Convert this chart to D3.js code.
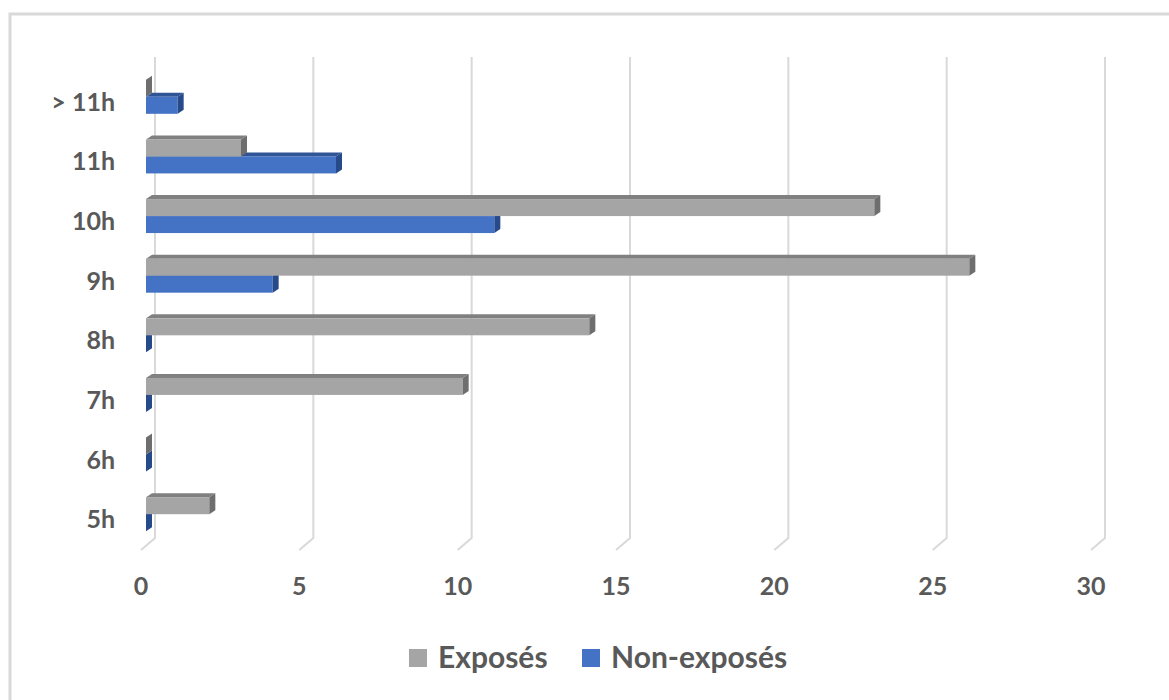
<!DOCTYPE html>
<html>
<head>
<meta charset="utf-8">
<script src="https://cdn.jsdelivr.net/npm/d3@7"></script>
<style>
  body { margin: 0; background: #fff; }
  svg { display: block; font-family: Lato, "Open Sans", sans-serif; }
</style>
</head>
<body>
<svg id="chart" width="1169" height="700"></svg>
<script>
  // Data.
  let categories = ["5h", "6h", "7h", "8h", "9h", "10h", "11h", "> 11h"];
  let exposes = [2, 0, 10, 14, 26, 23, 3, 0];
  let nonExposes = [0, 0, 0, 0, 4, 11, 6, 1];
  let xTicks = [0, 5, 10, 15, 20, 25, 30];
  let seriesNames = ["Exposés", "Non-exposés"];

  let svg = d3.select("#chart");

  // Outer frame.
  svg.append("rect")
    .attr("x", 10).attr("y", 14)
    .attr("width", 1300).attr("height", 800)
    .attr("fill", "none")
    .attr("stroke", "#d9d9d9")
    .attr("stroke-width", 3);

  // Front plane scales.
  let x = d3.scaleLinear().domain([0, 30]).range([141, 1091]);
  let y = d3.scaleBand().domain(categories).range([544, 67]);

  // Depth of the back wall and of the bars.
  let wallDx = 14, wallDy = 12;
  let barDx = 6, barDy = 4, barOff = 5;
  let barH = y.bandwidth() * 0.285;

  // Gridlines on the back wall, with a slanted tick on the floor.
  let grid = svg.append("g");
  xTicks.forEach((t) => {
    grid.append("path")
      .attr("d", `M${x(t) + wallDx},57 L${x(t) + wallDx},${550 - wallDy} L${x(t)},550`)
      .attr("fill", "none")
      .attr("stroke", "#d9d9d9")
      .attr("stroke-width", 2);
  });

  // Tick labels.
  svg.append("g").selectAll("text")
    .data(xTicks)
    .enter().append("text")
    .attr("x", (d) => x(d))
    .attr("y", 595)
    .attr("text-anchor", "middle")
    .attr("font-size", 25)
    .attr("font-weight", "bold")
    .attr("fill", "#595959")
    .text((d) => d);

  // Category labels.
  svg.append("g").selectAll("text")
    .data(categories)
    .enter().append("text")
    .attr("x", 115)
    .attr("y", (d) => y(d) + y.bandwidth() / 2 + 14)
    .attr("text-anchor", "end")
    .attr("font-size", 25)
    .attr("font-weight", "bold")
    .attr("fill", "#595959")
    .text((d) => d);

  // Draw one 3D bar: front face, top face and end face.
  function bar3d(g, x1, top, colors) {
    let x0 = x(0) + barOff;
    let xe = x1 + barOff;
    g.append("polygon")
      .attr("points", [[x0, top], [x0 + barDx, top - barDy], [xe + barDx, top - barDy], [xe, top]].join(" "))
      .attr("fill", colors.top);
    if (xe > x0) {
      g.append("rect")
        .attr("x", x0).attr("y", top)
        .attr("width", xe - x0).attr("height", barH)
        .attr("fill", colors.front);
    }
    g.append("polygon")
      .attr("points", [[xe, top], [xe + barDx, top - barDy], [xe + barDx, top + barH - barDy], [xe, top + barH]].join(" "))
      .attr("fill", colors.side);
  }

  let grayCol = { front: "#a5a5a5", top: "#808080", side: "#6e6e6e" };
  let blueCol = { front: "#4472c4", top: "#2f5597", side: "#264a8a" };

  let bars = svg.append("g");
  categories.forEach((c, i) => {
    let mid = y(c) + y.bandwidth() / 2;
    // blue first, the gray bar above covers its top face
    bar3d(bars, x(nonExposes[i]), mid, blueCol);
    bar3d(bars, x(exposes[i]), mid - barH, grayCol);
  });

  // Legend.
  let legend = svg.append("g");
  let legendX = [409, 582];
  let legendColors = [grayCol.front, blueCol.front];
  seriesNames.forEach((name, i) => {
    legend.append("rect")
      .attr("x", legendX[i]).attr("y", 649)
      .attr("width", 18).attr("height", 18)
      .attr("fill", legendColors[i]);
    legend.append("text")
      .attr("x", legendX[i] + 29)
      .attr("y", 668)
      .attr("font-size", 30)
      .attr("font-weight", "bold")
      .attr("fill", "#595959")
      .text(name);
  });
</script>
</body>
</html>
